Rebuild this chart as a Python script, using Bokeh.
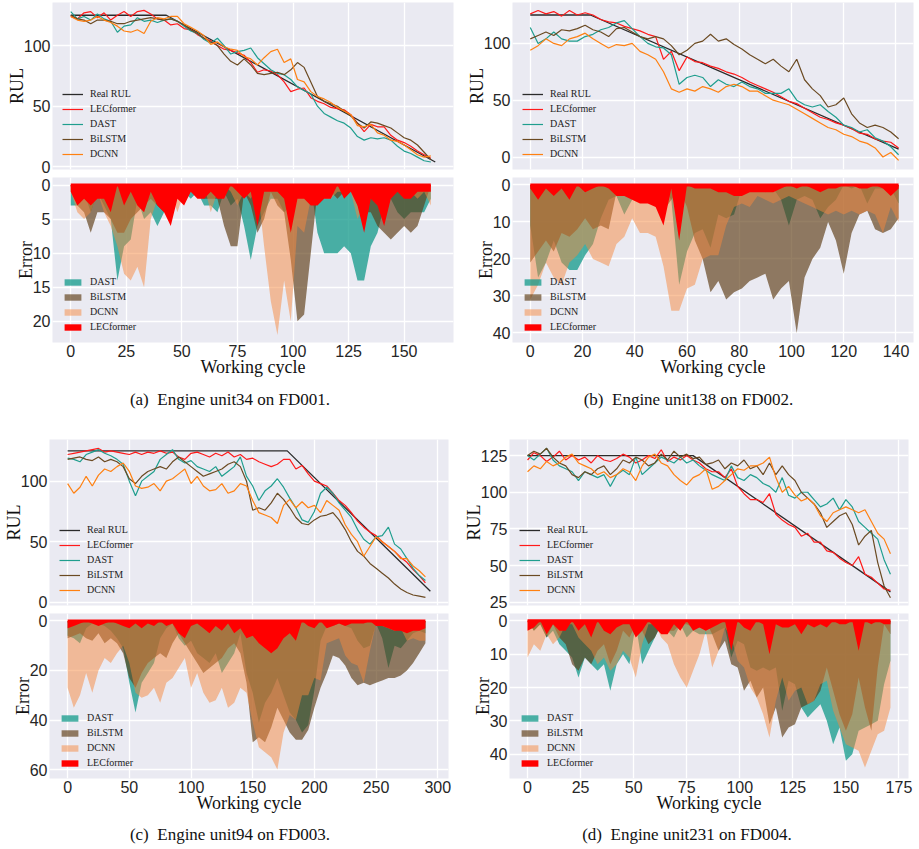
import numpy as np
from bokeh.plotting import figure
from bokeh.layouts import column, row
from bokeh.models import Range1d, FixedTicker, Div
from bokeh.embed import file_html
from bokeh.resources import INLINE

# ---------------- data ----------------
# Panel (a) FD001 unit34, cycles sampled every 3
A_X = list(range(0, 165, 3))
A_REAL_X = [0, 43, 164]
A_REAL_Y = [125, 125, 4]
A_LEC = [124, 122, 127, 128, 123, 127, 121, 125, 128, 124,
         128, 129, 126, 122, 121, 117, 118, 114, 113, 109,
         106, 104, 100, 97, 96, 94, 92, 86, 78, 80,
         79, 76, 70, 62, 64, 65, 57, 54, 52, 49,
         48, 47, 43, 36, 29, 35, 33, 33, 26, 22,
         20, 17, 13, 10, 7]
A_DAST = [128, 122, 124, 121, 126, 122, 120, 111, 116, 117,
          123, 120, 121, 119, 121, 122, 120, 116, 112, 110,
          105, 102, 106, 100, 93, 95, 96, 98, 90, 85,
          80, 77, 76, 72, 66, 63, 60, 50, 44, 41,
          38, 36, 32, 25, 22, 24, 23, 24, 22, 17,
          13, 11, 8, 5, 4]
A_BILSTM = [125, 122, 121, 118, 121, 121, 120, 118, 118, 120,
            121, 122, 123, 122, 121, 122, 120, 117, 113, 110,
            106, 103, 100, 93, 87, 84, 89, 84, 77, 76,
            77, 78, 76, 80, 86, 82, 70, 58, 54, 52,
            50, 46, 42, 36, 32, 37, 36, 34, 32, 28,
            24, 22, 18, 12, 6]
A_DCNN = [124, 121, 120, 121, 124, 121, 119, 116, 112, 111,
          113, 110, 120, 123, 122, 124, 124, 118, 115, 112,
          108, 101, 103, 99, 97, 96, 91, 89, 84, 90,
          95, 97, 86, 89, 72, 70, 62, 58, 56, 53,
          49, 46, 43, 34, 33, 35, 28, 26, 22, 21,
          18, 14, 10, 8, 9]

# Panel (b) FD002 unit138
B_X = list(range(0, 142, 3))
B_REAL_X = [0, 23, 141]
B_REAL_Y = [125, 125, 7]
B_LEC = [126, 129, 126, 128, 124, 129, 125, 127, 125, 121,
         119, 118, 115, 113, 111, 108, 106, 86, 93, 76,
         88, 84, 83, 80, 78, 75, 73, 70, 66, 63,
         60, 57, 53, 49, 47, 43, 39, 35, 33, 30,
         28, 25, 21, 20, 16, 14, 13, 8]
B_DAST = [114, 100, 104, 110, 104, 102, 102, 106, 108, 112,
          114, 118, 120, 113, 106, 100, 97, 96, 90, 64,
          70, 72, 70, 62, 68, 64, 62, 66, 62, 60,
          56, 56, 56, 60, 50, 46, 44, 46, 40, 35,
          28, 26, 22, 24, 17, 14, 9, 2]
B_BILSTM = [104, 107, 110, 107, 112, 111, 113, 116, 112, 110,
            106, 113, 114, 110, 106, 104, 106, 104, 98, 90,
            94, 100, 102, 108, 102, 104, 99, 95, 90, 86,
            82, 86, 80, 75, 86, 68, 60, 54, 44, 46,
            52, 38, 30, 26, 28, 26, 22, 16]
B_DCNN = [94, 98, 104, 100, 98, 104, 106, 109, 104, 100,
          96, 99, 98, 100, 93, 90, 86, 75, 60, 57,
          60, 58, 62, 60, 57, 62, 64, 62, 58, 58,
          54, 50, 48, 46, 42, 38, 34, 30, 26, 24,
          20, 18, 14, 12, 8, 0, 4, -3]

# Panel (c) FD003 unit94, cycles sampled every 5
C_X = list(range(0, 291, 5))
C_REAL_X = [0, 178, 294]
C_REAL_Y = [125, 125, 9]
C_LEC = [122, 123, 124, 125, 126, 127, 124, 125, 124, 123,
         122, 124, 122, 124, 123, 125, 123, 124, 120, 118,
         123, 124, 122, 120, 123, 121, 124, 120, 122, 118,
         119, 116, 114, 112, 114, 118, 118, 110, 113, 106,
         100, 98, 96, 90, 84, 80, 74, 67, 62, 58,
         55, 50, 46, 42, 37, 33, 27, 22, 16]
C_DAST = [119, 118, 116, 122, 124, 126, 123, 121, 118, 114,
          100, 88, 100, 104, 108, 118, 122, 126, 118, 115,
          117, 112, 110, 108, 112, 104, 108, 112, 120, 104,
          96, 84, 92, 96, 102, 95, 86, 78, 68, 66,
          75, 90, 95, 90, 82, 76, 70, 60, 52, 48,
          54, 55, 62, 48, 44, 36, 28, 22, 18]
C_BILSTM = [118, 119, 120, 118, 117, 120, 116, 118, 116, 112,
            102, 98, 104, 108, 110, 112, 110, 116, 120, 116,
            112, 108, 104, 106, 108, 110, 114, 116, 112, 100,
            76, 78, 76, 82, 90, 85, 78, 70, 65, 64,
            68, 71, 72, 74, 68, 60, 50, 42, 38, 32,
            28, 24, 20, 15, 11, 8, 6, 5, 4]
C_DCNN = [98, 90, 95, 104, 96, 105, 110, 108, 112, 115,
          108, 96, 94, 95, 98, 92, 100, 102, 106, 110,
          98, 104, 96, 92, 93, 98, 90, 92, 98, 96,
          84, 74, 72, 70, 65, 80, 85, 78, 83, 78,
          80, 74, 84, 80, 76, 64, 56, 50, 38, 46,
          54, 50, 46, 42, 36, 36, 30, 26, 21]

# Panel (d) FD004 unit231
D_X = list(range(0, 172, 3))
D_REAL_X = [0, 78, 171]
D_REAL_Y = [125, 125, 32]
D_LEC = [122, 127, 125, 121, 124, 128, 122, 125, 122, 124,
         120, 125, 122, 121, 123, 126, 124, 120, 122, 125,
         123, 129, 121, 124, 122, 125, 122, 120, 116, 114,
         114, 110, 116, 104, 99, 95, 95, 93, 99, 85,
         81, 78, 76, 70, 72, 66, 66, 60, 59, 55,
         52, 50, 56, 44, 42, 38, 34, 33]
D_DAST = [125, 122, 126, 130, 122, 118, 116, 114, 108, 114,
          112, 110, 112, 104, 112, 115, 112, 124, 112, 116,
          120, 124, 122, 120, 124, 120, 122, 118, 115, 112,
          110, 108, 118, 110, 108, 112, 110, 106, 104, 100,
          110, 98, 96, 100, 100, 95, 90, 92, 96, 88,
          95, 90, 80, 76, 72, 68, 54, 44]
D_BILSTM = [125, 128, 126, 130, 124, 120, 118, 112, 110, 114,
            112, 116, 118, 112, 116, 122, 120, 124, 122, 118,
            120, 126, 122, 128, 124, 126, 123, 124, 119, 120,
            122, 116, 120, 118, 122, 116, 118, 112, 120, 112,
            118, 112, 108, 100, 96, 92, 86, 76, 80, 84,
            86, 78, 64, 70, 74, 52, 36, 28]
D_DCNN = [114, 118, 116, 121, 118, 120, 124, 126, 120, 118,
          116, 112, 114, 110, 112, 116, 114, 108, 118, 124,
          126, 120, 118, 112, 108, 105, 110, 112, 116, 102,
          104, 108, 112, 116, 115, 118, 118, 120, 124, 110,
          100, 104, 98, 94, 96, 92, 84, 80, 86, 88,
          90, 88, 86, 88, 80, 72, 68, 58]

X_TICKS = {"a": [0, 25, 50, 75, 100, 125, 150], "b": [0, 20, 40, 60, 80, 100, 120, 140],
           "c": [0, 50, 100, 150, 200, 250, 300], "d": [0, 25, 50, 75, 100, 125, 150, 175]}
RUL_TICKS = {"a": [0, 50, 100], "b": [0, 50, 100], "c": [0, 50, 100], "d": [25, 50, 75, 100, 125]}
ERR_TICKS = {"a": [0, 5, 10, 15, 20], "b": [0, 10, 20, 30, 40], "c": [0, 20, 40, 60], "d": [0, 10, 20, 30, 40]}
CAPTIONS = {"a": "(a)&nbsp;&nbsp;Engine unit34 on FD001.", "b": "(b)&nbsp;&nbsp;Engine unit138 on FD002.",
            "c": "(c)&nbsp;&nbsp;Engine unit94 on FD003.", "d": "(d)&nbsp;&nbsp;Engine unit231 on FD004."}

# ---------------- style ----------------
BG = "#EAEAF2"
LINE_COLORS = {"Real RUL": "#2b2b2b", "LECformer": "#ff1a1a", "DAST": "#1f9e8e",
               "BiLSTM": "#6b4a22", "DCNN": "#ff8011"}
FILLS = {"DAST": ("#12998a", 0.75), "BiLSTM": ("#5c3a12", 0.65),
         "DCNN": ("#f5883e", 0.5), "LECformer": ("#ff0000", 1.0)}


def style_axes(fig):
    for ax in fig.axis:
        ax.axis_line_color = None
        ax.major_tick_line_color = None
        ax.minor_tick_line_color = None
        ax.major_tick_out = 0
        ax.major_tick_in = 0
        ax.major_label_standoff = 2
        ax.axis_label_standoff = -3
        ax.major_label_text_font = "Liberation Sans"
        ax.major_label_text_font_size = "16px"
        ax.major_label_text_color = "#262626"
        ax.axis_label_text_font = "Liberation Serif"
        ax.axis_label_text_font_size = "18px"
        ax.axis_label_text_font_style = "normal"
        ax.axis_label_text_color = "#111111"
    for ax in fig.yaxis:
        ax.axis_label_standoff = -6
    for g in fig.grid:
        g.grid_line_color = "white"
        g.grid_line_width = 1.3


def style_legend(fig, gh):
    lg = fig.legend[0]
    lg.location = "bottom_left"
    lg.margin = 2
    lg.padding = 8
    lg.spacing = 4
    lg.glyph_width = 21
    lg.glyph_height = gh
    lg.label_height = 10
    lg.label_standoff = 7
    lg.label_text_font = "Liberation Serif"
    lg.label_text_font_size = "10px"
    lg.label_text_color = "#222222"
    lg.background_fill_alpha = 0
    lg.border_line_alpha = 0


def panel(key, x, rx, ry, preds, xr, rul_r, err_r, lb, fw, rb, fh_top, top_tb, cap_h, cap_mt):
    x = np.array(x)
    real = np.interp(x, rx, ry)
    xrange = Range1d(*xr)
    p = figure(frame_width=fw, frame_height=fh_top, min_border_left=lb, min_border_right=rb,
               min_border_top=top_tb, min_border_bottom=6, x_range=xrange,
               y_range=Range1d(*rul_r), output_backend="svg", toolbar_location=None,
               background_fill_color=BG, border_fill_color="white", outline_line_color=None)
    p.xaxis.ticker = FixedTicker(ticks=X_TICKS[key])
    p.yaxis.ticker = FixedTicker(ticks=RUL_TICKS[key])
    p.yaxis.axis_label = "RUL"
    p.xaxis.visible = False
    p.line(rx, ry, line_color=LINE_COLORS["Real RUL"], line_width=1.3, legend_label="Real RUL")
    for name in ["LECformer", "DAST", "BiLSTM", "DCNN"]:
        p.line(x, preds[name], line_color=LINE_COLORS[name], line_width=1.2, legend_label=name)
    style_axes(p)
    style_legend(p, 10)

    q = figure(frame_width=fw, frame_height=165, min_border_left=lb, min_border_right=rb,
               min_border_top=2, min_border_bottom=38, x_range=xrange,
               y_range=Range1d(*err_r), output_backend="svg", toolbar_location=None,
               background_fill_color=BG, border_fill_color="white", outline_line_color=None)
    q.xaxis.ticker = FixedTicker(ticks=X_TICKS[key])
    q.yaxis.ticker = FixedTicker(ticks=ERR_TICKS[key])
    q.yaxis.axis_label = "Error"
    q.xaxis.axis_label = "Working cycle"
    for name in ["DAST", "BiLSTM", "DCNN", "LECformer"]:
        err = np.abs(np.array(preds[name], dtype=float) - real)
        col, alpha = FILLS[name]
        q.varea(x=x, y1=np.zeros_like(err), y2=err, fill_color=col, fill_alpha=alpha,
                legend_label=name)
    q.line([x[0], x[-1]], [0, 0], line_color="#ff0000", line_width=3)
    style_axes(q)
    style_legend(q, 8)

    width = lb + fw + rb
    html = (f'<div style="margin:{cap_mt}px 0 0 0;padding:0;width:{width}px;text-align:center;'
            f'font-family:\'Liberation Serif\';font-size:17px;line-height:20px;color:#111;">'
            f'{CAPTIONS[key]}</div>')
    cap = Div(text=html, width=width, height=cap_h, margin=0)
    return column(p, q, cap, spacing=0)


col_a = panel("a", A_X, A_REAL_X, A_REAL_Y,
              {"LECformer": A_LEC, "DAST": A_DAST, "BiLSTM": A_BILSTM, "DCNN": A_DCNN},
              (-8.2, 172.2), (-2.2, 135.5), (23.1, -1.1), 52, 401, 7, 167, 2, 55, 10)
col_b = panel("b", B_X, B_REAL_X, B_REAL_Y,
              {"LECformer": B_LEC, "DAST": B_DAST, "BiLSTM": B_BILSTM, "DCNN": B_DCNN},
              (-6.8, 146.7), (-11, 136), (42.6, -2), 52, 401, 4, 167, 2, 55, 10)
col_c = panel("c", C_X, C_REAL_X, C_REAL_Y,
              {"LECformer": C_LEC, "DAST": C_DAST, "BiLSTM": C_BILSTM, "DCNN": C_DCNN},
              (-14.7, 308.7), (-2.7, 134.4), (63.6, -3), 49, 399, 12, 166, 4, 31, 9)
col_d = panel("d", D_X, D_REAL_X, D_REAL_Y,
              {"LECformer": D_LEC, "DAST": D_DAST, "BiLSTM": D_BILSTM, "DCNN": D_DCNN},
              (-8.5, 179.5), (22.7, 136), (47.3, -2.2), 49, 399, 6, 166, 4, 31, 9)

layout = column(row(col_a, col_b, spacing=0), row(col_c, col_d, spacing=0), spacing=0)

open("out.html", "w").write(file_html(layout, INLINE))
